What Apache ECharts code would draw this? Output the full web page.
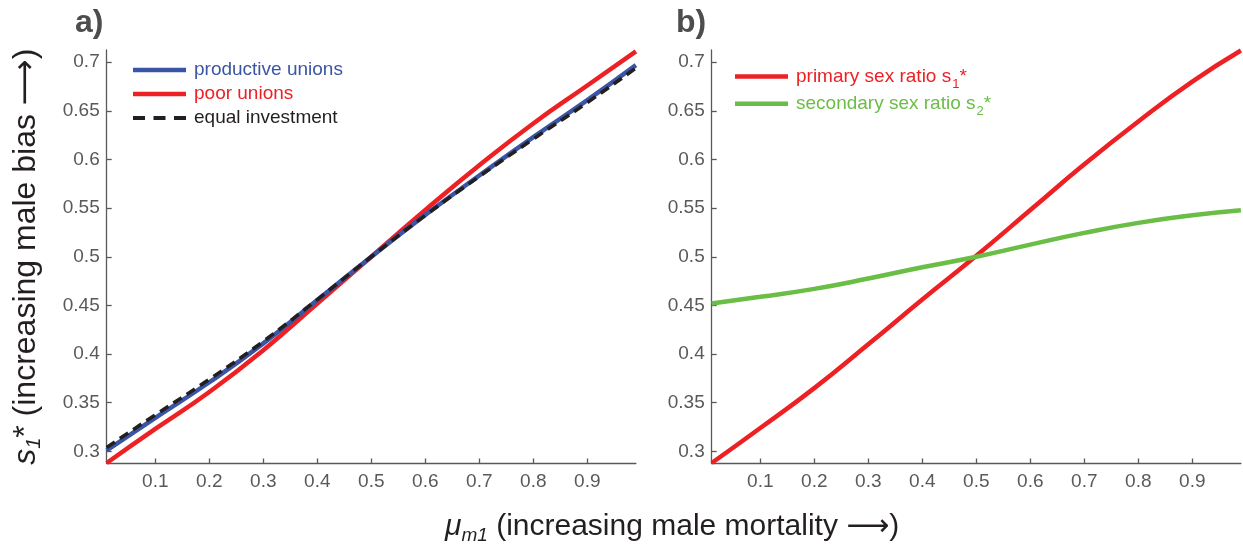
<!DOCTYPE html>
<html>
<head>
<meta charset="utf-8">
<script src="https://cdn.jsdelivr.net/npm/echarts@6/dist/echarts.min.js"></script>
<style>
  html, body { margin: 0; padding: 0; background: #fff; }
  #chart { width: 1243px; height: 551px; }
</style>
</head>
<body>
<div id="chart"></div>
<script>
// Male mortality values at which the curves are sampled
const mortality = [0.01, 0.1, 0.2, 0.3, 0.4, 0.5, 0.6, 0.7, 0.8, 0.9, 0.99];

// Panel a): optimal primary sex ratio by union type
const productiveUnions = [0.301, 0.3345, 0.371, 0.411, 0.4555, 0.5, 0.543, 0.5835, 0.623, 0.661, 0.697];
const poorUnions       = [0.288, 0.323, 0.361, 0.404, 0.452, 0.5, 0.548, 0.594, 0.637, 0.676, 0.711];
const equalInvestment  = [0.304, 0.3375, 0.374, 0.413, 0.456, 0.5, 0.5425, 0.5825, 0.621, 0.6585, 0.694];

// Panel b): primary vs secondary sex ratio
const primaryRatio   = [0.288, 0.324, 0.365, 0.410, 0.456, 0.501, 0.548, 0.595, 0.639, 0.680, 0.712];
const secondaryRatio = [0.452, 0.4588, 0.467, 0.4776, 0.4892, 0.5, 0.5125, 0.5245, 0.5348, 0.5426, 0.5478];

// Tick positions
const xTicks = [0.1, 0.2, 0.3, 0.4, 0.5, 0.6, 0.7, 0.8, 0.9];
const yTicks = [0.3, 0.35, 0.4, 0.45, 0.5, 0.55, 0.6, 0.65, 0.7];

const FONT = '"Liberation Sans", Arial, sans-serif';
const ARROW_FONT = '"DejaVu Sans", sans-serif';
const AXIS = '#58595b';
const BLUE = '#3a55a5';
const RED = '#ed2024';
const GREEN = '#6abd45';
const BLACK = '#231f20';

// Legend keys: a thick bar, or three dashes for the dashed series
const SOLID_KEY = 'path://M0,0H53V4.5H0Z';
const DASHED_KEY = 'path://M0,0H12V4H0Z M20.5,0H32.5V4H20.5Z M41,0H53V4H41Z';

const pairs = (ys) => mortality.map((x, i) => [x, ys[i]]);

function xAxisFor(gridIndex) {
  return {
    gridIndex, type: 'value', min: 0.01, max: 0.99,
    axisLine: { show: true, lineStyle: { color: AXIS, width: 1.3 } },
    axisTick: { show: true, inside: true, length: 5, customValues: xTicks, lineStyle: { color: AXIS, width: 1.3 } },
    axisLabel: { customValues: xTicks, margin: 9, fontSize: 19, color: AXIS, fontFamily: FONT },
    splitLine: { show: false }
  };
}
function yAxisFor(gridIndex, extra) {
  return Object.assign({
    gridIndex, type: 'value', min: 0.2875, max: 0.7125,
    axisLine: { show: true, lineStyle: { color: AXIS, width: 1.3 } },
    axisTick: { show: true, inside: true, length: 5, customValues: yTicks, lineStyle: { color: AXIS, width: 1.3 } },
    axisLabel: { customValues: yTicks, margin: 7, fontSize: 19, color: AXIS, fontFamily: FONT },
    splitLine: { show: false }
  }, extra || {});
}

function line(name, ys, color, gi, z, dashed) {
  return {
    name, type: 'line', xAxisIndex: gi, yAxisIndex: gi, z,
    data: pairs(ys), smooth: true, symbol: 'none', silent: true,
    lineStyle: dashed ? { color, width: 3.6, type: [10, 6] } : { color, width: 4.5 },
    itemStyle: { color }
  };
}

const plain = (size, extra) => Object.assign({ fontFamily: FONT, fontSize: size, fontWeight: 'normal', color: BLACK, verticalAlign: 'middle' }, extra || {});

const chart = echarts.init(document.getElementById('chart'), null, { renderer: 'canvas' });

chart.setOption({
  animation: false,
  backgroundColor: '#fff',
  grid: [
    { left: 106.7, top: 50, width: 529.2, height: 413.5 },
    { left: 711.7, top: 50, width: 529.2, height: 413.5 }
  ],
  xAxis: [xAxisFor(0), xAxisFor(1)],
  yAxis: [
    yAxisFor(0, {
      name: '{s|s}{sub|1}{st|*}{t| (increasing male bias }{ar|⟶}{t|)}',
      nameLocation: 'middle', nameRotate: 90, nameGap: 62,
      nameTextStyle: {
        fontFamily: FONT, fontSize: 32, color: BLACK,
        rich: {
          s: plain(32, { fontStyle: 'italic' }),
          sub: plain(20, { fontStyle: 'italic', padding: [17, 0, 0, 0] }),
          st: plain(32),
          t: plain(32),
          ar: plain(32, { fontFamily: ARROW_FONT })
        }
      }
    }),
    yAxisFor(1)
  ],
  title: {
    text: '{mu|μ}{sub|m1}{t| (increasing male mortality }{ar|⟶}{t|)}',
    left: 440, top: 504,
    textStyle: {
      fontFamily: FONT, fontSize: 30, fontWeight: 'normal', color: BLACK,
      rich: {
        mu: plain(30, { fontStyle: 'italic' }),
        sub: plain(19, { fontStyle: 'italic', padding: [17, 0, 0, 0] }),
        t: plain(30),
        ar: plain(30, { fontFamily: ARROW_FONT })
      }
    }
  },
  legend: [
    {
      left: 128, top: 55, orient: 'vertical',
      itemWidth: 53, itemHeight: 4.5, itemGap: 4,
      selectedMode: false,
      textStyle: { fontFamily: FONT, fontSize: 19, lineHeight: 20, padding: [0, 0, 0, 3] },
      data: [
        { name: 'productive unions', icon: SOLID_KEY, itemStyle: { color: BLUE }, textStyle: { color: BLUE } },
        { name: 'poor unions', icon: SOLID_KEY, itemStyle: { color: RED }, textStyle: { color: RED } },
        { name: 'equal investment', icon: DASHED_KEY, itemStyle: { color: BLACK }, textStyle: { color: BLACK } }
      ]
    },
    {
      left: 730, top: 62, orient: 'vertical',
      itemWidth: 53, itemHeight: 4.5, itemGap: 3.7,
      selectedMode: false,
      formatter: (name) => name === 'primary sex ratio'
        ? '{r|primary sex ratio s}{rs|1}{r|*}'
        : '{g|secondary sex ratio s}{gs|2}{g|*}',
      textStyle: {
        fontFamily: FONT, fontSize: 19, padding: [0, 0, 0, 3],
        rich: {
          r: plain(19, { color: RED }),
          rs: plain(13, { color: RED, padding: [15, 0, 0, 1] }),
          g: plain(19, { color: GREEN }),
          gs: plain(13, { color: GREEN, padding: [15, 0, 0, 1] })
        }
      },
      data: [
        { name: 'primary sex ratio', icon: SOLID_KEY, itemStyle: { color: RED } },
        { name: 'secondary sex ratio', icon: SOLID_KEY, itemStyle: { color: GREEN } }
      ]
    }
  ],
  graphic: [
    { type: 'text', x: 75, y: 7, style: { text: 'a)', fontFamily: FONT, fontSize: 32, fontWeight: 'bold', fill: '#4d4d4d' } },
    { type: 'text', x: 676, y: 7, style: { text: 'b)', fontFamily: FONT, fontSize: 32, fontWeight: 'bold', fill: '#4d4d4d' } }
  ],
  series: [
    line('productive unions', productiveUnions, BLUE, 0, 3, false),
    line('poor unions', poorUnions, RED, 0, 2, false),
    line('equal investment', equalInvestment, BLACK, 0, 4, true),
    line('primary sex ratio', primaryRatio, RED, 1, 2, false),
    line('secondary sex ratio', secondaryRatio, GREEN, 1, 3, false)
  ]
});
</script>
</body>
</html>
